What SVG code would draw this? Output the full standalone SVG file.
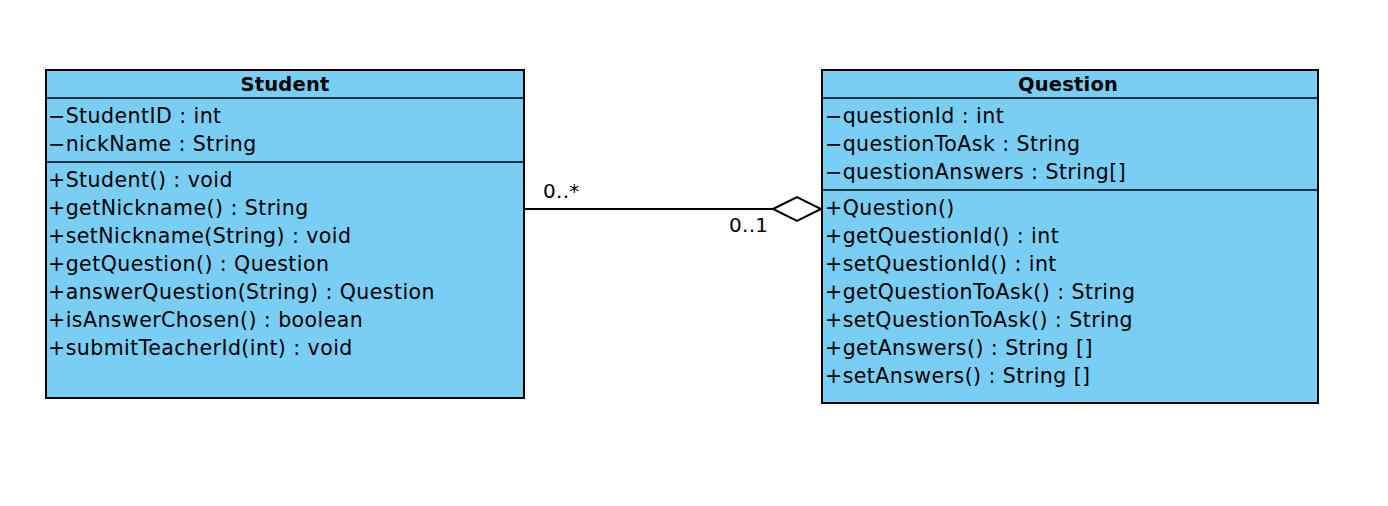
<svg xmlns="http://www.w3.org/2000/svg" width="1388" height="506" viewBox="0 0 1388 506">
<style>
.box{fill:#7ACEF4;stroke:#000;stroke-width:2}
.sep{stroke:#000;stroke-width:1.5}
text{font-family:"DejaVu Sans","Liberation Sans",sans-serif;font-size:20.5px;fill:#000;letter-spacing:0.45px}
.title{font-size:19.5px;font-weight:bold;text-anchor:middle;letter-spacing:0.2px}
.lbl{font-size:20px;letter-spacing:0.3px}
</style>
<rect width="1388" height="506" fill="#fff"/>
<g id="student">
<rect class="box" x="46" y="70" width="478" height="328"/>
<line class="sep" x1="46" y1="98" x2="524" y2="98"/>
<line class="sep" x1="46" y1="162" x2="524" y2="162"/>
<text class="title" x="285" y="91">Student</text>
<text x="48" y="123">−StudentID : int</text>
<text x="48" y="151">−nickName : String</text>
<text x="48" y="187">+Student() : void</text>
<text x="48" y="215">+getNickname() : String</text>
<text x="48" y="243">+setNickname(String) : void</text>
<text x="48" y="271">+getQuestion() : Question</text>
<text x="48" y="299">+answerQuestion(String) : Question</text>
<text x="48" y="327">+isAnswerChosen() : boolean</text>
<text x="48" y="355">+submitTeacherId(int) : void</text>
</g>
<g id="question">
<rect class="box" x="822" y="70" width="496" height="333"/>
<line class="sep" x1="822" y1="98" x2="1318" y2="98"/>
<line class="sep" x1="822" y1="190" x2="1318" y2="190"/>
<text class="title" x="1068" y="91">Question</text>
<text x="825" y="123">−questionId : int</text>
<text x="825" y="151">−questionToAsk : String</text>
<text x="825" y="179">−questionAnswers : String[]</text>
<text x="825" y="215">+Question()</text>
<text x="825" y="243">+getQuestionId() : int</text>
<text x="825" y="271">+setQuestionId() : int</text>
<text x="825" y="299">+getQuestionToAsk() : String</text>
<text x="825" y="327">+setQuestionToAsk() : String</text>
<text x="825" y="355">+getAnswers() : String []</text>
<text x="825" y="383">+setAnswers() : String []</text>
</g>
<g id="connectors">
<line x1="525" y1="209" x2="773" y2="209" stroke="#000" stroke-width="2"/>
<polygon points="773,209 797,197 821,209 797,221" fill="#fff" stroke="#000" stroke-width="2"/>
<text class="lbl" x="543" y="198">0..*</text>
<text class="lbl" x="729" y="232">0..1</text>
</g>
</svg>
